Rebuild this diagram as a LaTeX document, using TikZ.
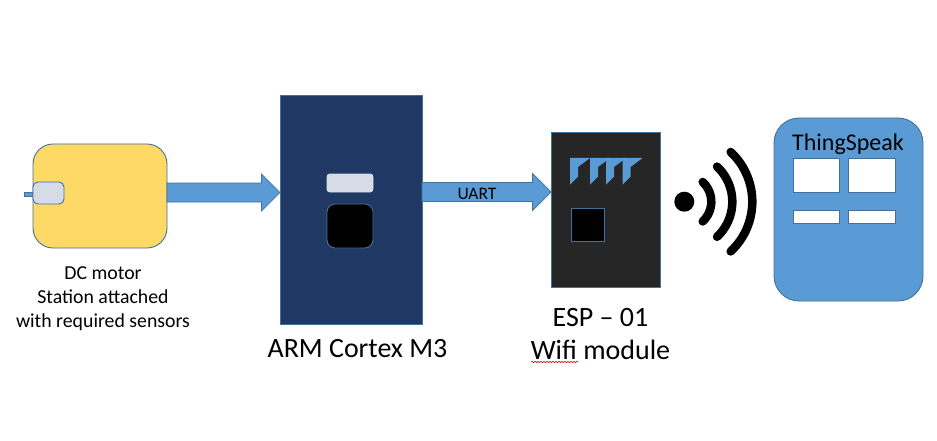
\documentclass[tikz,border=0pt]{standalone}
\usepackage{fontspec}
\setmainfont{Carlito}
\usepackage{xcolor}
\usetikzlibrary{calc,decorations.pathmorphing}
\definecolor{edgeblue}{RGB}{65,113,156}
\definecolor{fillblue}{RGB}{91,155,213}
\definecolor{navy}{RGB}{31,56,100}
\definecolor{board}{RGB}{38,38,38}
\definecolor{pale}{RGB}{214,220,229}
\definecolor{motoryellow}{RGB}{255,217,102}
\tikzset{
  part/.style={draw=edgeblue,line width=0.9pt,inner sep=0pt,outer sep=0pt},
  blockarrow/.style={draw=edgeblue,fill=fillblue,line width=0.7pt,to path={
    let \p1=(\tikztostart),\p2=(\tikztotarget) in
    (\x1,\y1+9.5pt) -- (\x2-18.5pt,\y1+9.5pt) -- (\x2-18.5pt,\y1+18.5pt) -- (\x2,\y1)
    -- (\x2-18.5pt,\y1-18.5pt) -- (\x2-18.5pt,\y1-9.5pt) -- (\x1,\y1-9.5pt) -- cycle}},
  wifiarc/.style={line width=8.5pt,line cap=round}
}

\begin{document}
\begin{tikzpicture}[x=1pt,y=-1pt]
  \useasboundingbox (0,0) rectangle (937,441);
  % motor station
  \fill[fillblue,draw=edgeblue,line width=0.5pt] (24,192) rectangle (34,196);
  \node[part,fill=motoryellow,rounded corners=20pt,minimum width=134pt,minimum height=104pt] (motor) at (100,196) {};
  \node[part,fill=pale,rounded corners=5pt,minimum width=31pt,minimum height=22pt] (sensor) at (48.5,193) {};
  \node[font=\fontsize{19.8}{24}\selectfont,align=center] (motorlabel) at (103,298.5) {DC motor\\Station attached\\with required sensors};
  % controller
  \node[part,fill=navy,minimum width=142pt,minimum height=229pt] (arm) at (351,209.5) {};
  \node[part,draw=pale,fill=pale,rounded corners=3pt,minimum width=46pt,minimum height=18pt] (armchip) at (350,183) {};
  \node[part,fill=black,rounded corners=8pt,minimum width=46pt,minimum height=44pt] (armcore) at (350,226) {};
  \node[font=\fontsize{27.9}{32}\selectfont] (armlabel) at (357.5,349) {ARM Cortex M3};
  % wifi module
  \node[part,fill=board,minimum width=109pt,minimum height=155pt] (esp) at (605.5,209.5) {};
  \foreach \x in {570,590,606,622.5}
    \fill[fillblue] (\x,158) -- (\x+20,158) -- (\x+8,167) -- (\x+8,176.5) -- (\x,184.5) -- cycle;
  \node[part,fill=black,minimum width=33pt,minimum height=33pt] (espchip) at (587.5,224.5) {};
  \node[font=\fontsize{28}{33}\selectfont,align=center] (esplabel) at (600.5,334.5) {ESP – 01\\Wifi module};
  \draw[red!80!black,line width=0.5pt,decorate,decoration={snake,amplitude=0.7pt,segment length=3pt}] (531,362) -- (578,362);
  % arrows
  \draw[blockarrow] ([yshift=3.5pt]motor.east) to (arm.west);
  \draw[blockarrow] ([yshift=17.5pt]arm.east) to (esp.west);
  \node[font=\fontsize{17.5}{20}\selectfont] (uart) at (477,194) {UART};
  % wireless link
  \node[circle,fill=black,inner sep=0pt,minimum size=20pt] (wifidot) at (684.3,201.7) {};
  \foreach \rad in {27,48,68}
    \draw[wifiarc] (wifidot.center) ++(-47:\rad pt) arc[start angle=-47,end angle=47,radius=\rad pt];
  % cloud service
  \node[part,fill=fillblue,rounded corners=25pt,minimum width=149pt,minimum height=183pt] (cloud) at (848.5,209.5) {};
  \node[font=\fontsize{24}{28}\selectfont] (cloudlabel) at (848,144) {ThingSpeak};
  \node[part,fill=white,minimum width=46pt,minimum height=34pt] (panela) at (816,175) {};
  \node[part,fill=white,minimum width=47pt,minimum height=34pt] (panelb) at (872,175) {};
  \node[part,fill=white,minimum width=46pt,minimum height=13pt] (panelc) at (816,216.5) {};
  \node[part,fill=white,minimum width=47pt,minimum height=13pt] (paneld) at (872,216.5) {};
\end{tikzpicture}
\end{document}
